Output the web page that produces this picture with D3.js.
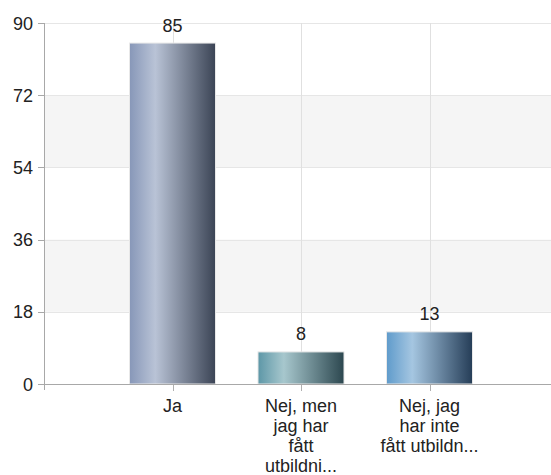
<!DOCTYPE html>
<html><head><meta charset="utf-8">
<script src="https://cdn.jsdelivr.net/npm/d3@7"></script>
<style>body{margin:0;background:#fff}svg{display:block;font-family:Arial,"Liberation Sans",sans-serif}</style>
</head><body><svg id="c" width="551" height="475"></svg>
<script>
const categories = ["Ja", "Nej, men jag har fått utbildni...", "Nej, jag har inte fått utbildn..."];
const labelLines = [["Ja"], ["Nej, men", "jag har", "fått", "utbildni..."], ["Nej, jag", "har inte", "fått utbildn..."]];
const values = [85, 8, 13];
const yTicks = [0, 18, 36, 54, 72, 90];
const gradients = [
  ["#8797b8", "#b9c3d6", "#3b4455"],
  ["#5d97a7", "#a7c7cd", "#2c474f"],
  ["#5f9bcb", "#a5c6e1", "#253d57"]
];

const svg = d3.select("#c");
const pL = 44, pR = 558, pT = 23, pB = 384;
const x = d3.scalePoint().domain(categories).range([pL, pR]).padding(1);
const y = d3.scaleLinear().domain([0, 90]).range([pB, pT]);
const barW = 86;
const fs = 18;

const defs = svg.append("defs");
gradients.forEach((g, i) => {
  const lg = defs.append("linearGradient").attr("id", "g" + i).attr("x1", 0).attr("x2", 1).attr("y1", 0).attr("y2", 0);
  lg.append("stop").attr("offset", "0%").attr("stop-color", g[0]);
  lg.append("stop").attr("offset", "30%").attr("stop-color", g[1]);
  lg.append("stop").attr("offset", "100%").attr("stop-color", g[2]);
});

// bands
for (let i = 0; i < yTicks.length - 1; i++) {
  if (i % 2 === 1) {
    svg.append("rect").attr("x", pL).attr("width", 551 - pL)
      .attr("y", y(yTicks[i + 1])).attr("height", y(yTicks[i]) - y(yTicks[i + 1]))
      .attr("fill", "#f5f5f5");
  }
}
// horizontal grid
svg.selectAll(".hg").data(yTicks.slice(1)).join("line")
  .attr("x1", pL).attr("x2", 551).attr("y1", d => Math.round(y(d)) + 0.5).attr("y2", d => Math.round(y(d)) + 0.5)
  .attr("stroke", "#e6e6e6").attr("stroke-width", 1);
// vertical grid + ticks
svg.selectAll(".vg").data(categories).join("line")
  .attr("x1", d => Math.round(x(d)) + 0.5).attr("x2", d => Math.round(x(d)) + 0.5)
  .attr("y1", pT).attr("y2", pB)
  .attr("stroke", "#e0e0e0");
svg.selectAll(".vt").data(categories).join("line")
  .attr("x1", d => Math.round(x(d)) + 0.5).attr("x2", d => Math.round(x(d)) + 0.5)
  .attr("y1", pB).attr("y2", pB + 7)
  .attr("stroke", "#b0b0b0");

// bars
svg.selectAll(".bar").data(values).join("rect")
  .attr("x", (d, i) => x(categories[i]) - barW / 2)
  .attr("width", barW)
  .attr("y", d => y(d))
  .attr("height", d => pB - y(d))
  .attr("fill", (d, i) => `url(#g${i})`)
  .attr("stroke", "#e8e8e8").attr("stroke-width", 1);

// value labels
svg.selectAll(".vl").data(values).join("text")
  .attr("x", (d, i) => x(categories[i]))
  .attr("y", d => y(d) - 11.5)
  .attr("text-anchor", "middle").attr("font-size", fs).attr("fill", "#222")
  .text(d => d);

// axes lines
svg.append("line").attr("x1", pL + 0.5).attr("x2", pL + 0.5).attr("y1", pT).attr("y2", pB + 6)
  .attr("stroke", "#a8a8a8");
svg.append("line").attr("x1", pL).attr("x2", 551).attr("y1", pB + 0.5).attr("y2", pB + 0.5)
  .attr("stroke", "#a8a8a8");

// y ticks
svg.selectAll(".yt").data(yTicks).join("line")
  .attr("x1", pL - 6).attr("x2", pL).attr("y1", d => Math.round(y(d)) + 0.5).attr("y2", d => Math.round(y(d)) + 0.5)
  .attr("stroke", "#a8a8a8");
svg.selectAll(".yl").data(yTicks).join("text")
  .attr("x", pL - 11).attr("y", d => y(d) + 6.5)
  .attr("text-anchor", "end").attr("font-size", fs).attr("fill", "#222")
  .text(d => d);

// x labels
categories.forEach((c, i) => {
  const t = svg.append("text").attr("x", x(c)).attr("y", 412)
    .attr("text-anchor", "middle").attr("font-size", fs).attr("fill", "#222");
  labelLines[i].forEach((ln, j) => {
    t.append("tspan").attr("x", x(c)).attr("dy", j === 0 ? 0 : 20).text(ln);
  });
});
</script></body></html>
